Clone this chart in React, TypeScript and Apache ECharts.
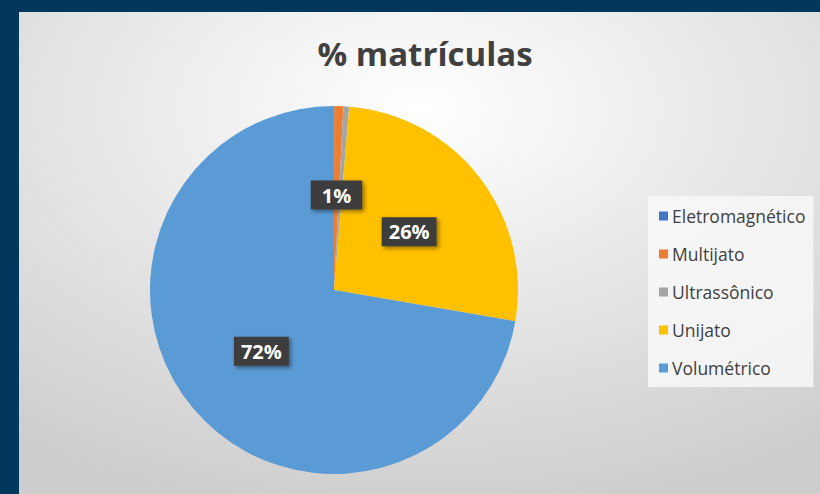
import React, { useEffect, useRef } from "react";
import * as echarts from "echarts";

const categories = ["Eletromagnético", "Multijato", "Ultrassônico", "Unijato", "Volumétrico"];
const values = [0.02, 0.8, 0.5, 26.4, 72.3];
const colors = ["#4472C4", "#ED7D31", "#A5A5A5", "#FFC000", "#5B9BD5"];
const showLabel = [false, true, false, true, true];
const title = "% matrículas";

export default function App() {
  const ref = useRef<HTMLDivElement>(null);
  useEffect(() => {
    document.body.style.margin = "0";
    const chart = echarts.init(ref.current!, null, { renderer: "svg" });
    const total = values.reduce((a, b) => a + b, 0);
    chart.setOption({
      animation: false,
      backgroundColor: "#02385E",
      graphic: [
        {
          type: "rect",
          shape: { x: 19, y: 12, width: 801, height: 482 },
          style: {
            fill: new echarts.graphic.RadialGradient(0.5, 0.2, 0.85, [
              { offset: 0, color: "#ffffff" },
              { offset: 1, color: "#cdcdcd" },
            ]),
          },
          z: -10,
          silent: true,
        },
      ],
      title: {
        text: title,
        left: 420,
        top: 32,
        textAlign: "center",
        textStyle: { fontFamily: "Open Sans", fontWeight: "bold", fontSize: 33, color: "#404040" },
      },
      legend: {
        orient: "vertical",
        left: 648,
        top: 196,
        padding: [11, 8, 10, 11],
        backgroundColor: "rgba(248,248,248,0.85)",
        itemWidth: 9,
        itemHeight: 9,
        itemGap: 20,
        icon: "rect",
        data: categories,
        textStyle: { fontFamily: "Open Sans", fontSize: 17.5, color: "#404040", padding: [0, 0, 0, -1] },
      },
      series: [
        {
          type: "pie",
          center: [334, 290],
          radius: 184,
          startAngle: 90,
          clockwise: true,
          silent: true,
          avoidLabelOverlap: false,
          labelLine: { show: false },
          label: {
            show: true,
            position: "inside",
            formatter: (p: any) => Math.round((p.value / total) * 100) + "%",
            fontFamily: "Open Sans",
            fontWeight: "bold",
            fontSize: 20,
            color: "#ffffff",
            backgroundColor: "#3d3d3d",
            padding: [5, 7, 4, 7],
            shadowBlur: 4,
            shadowColor: "rgba(0,0,0,0.45)",
            shadowOffsetX: 2,
            shadowOffsetY: 2,
          },
          data: categories.map((c, i) => ({
            name: c,
            value: values[i],
            itemStyle: { color: colors[i] },
            label: i === 1 ? { show: showLabel[i], padding: [5, 11, 4, 11] } : { show: showLabel[i] },
          })),
        },
      ],
    });
    return () => chart.dispose();
  }, []);
  return <div ref={ref} style={{ width: 820, height: 494, position: "fixed", left: 0, top: 0 }} />;
}
